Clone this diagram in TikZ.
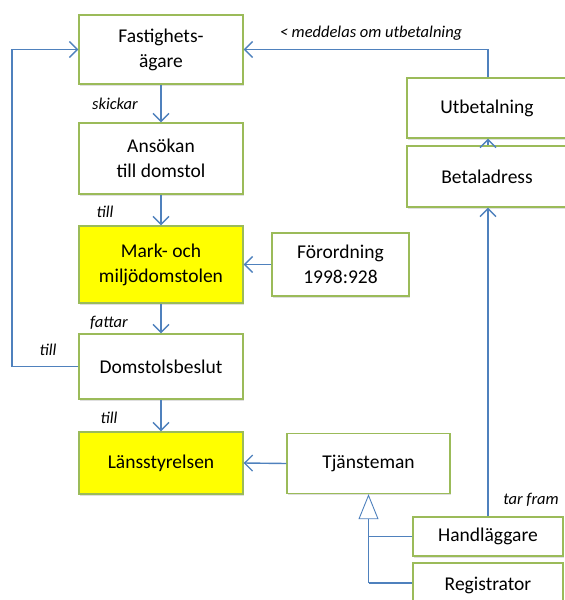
\documentclass[tikz,border=0pt]{standalone}
\usepackage{fontspec}
\setmainfont{Carlito}
\usetikzlibrary{arrows.meta,shadows}
\definecolor{boxgreen}{HTML}{9BBB59}
\definecolor{lineblue}{HTML}{4F81BD}
\definecolor{yel}{HTML}{FFFF00}
\begin{document}
\begin{tikzpicture}[x=1pt,y=-1pt,
  box/.style={draw=boxgreen, line width=1.4pt, fill=white, align=center,
    font=\fontsize{19.5}{25}\selectfont, inner sep=0pt,
    drop shadow={opacity=0.25, shadow xshift=1.2pt, shadow yshift=-1.5pt}},
  lbl/.style={font=\itshape\fontsize{16.5}{18}\selectfont, inner sep=0pt},
  conn/.style={draw=lineblue, line width=1.4pt},
  arr/.style={conn, -{Straight Barb[length=8pt,width=16pt,line width=1.3pt]}}]
\useasboundingbox (0,0) rectangle (565,600);
\clip (0,0) rectangle (565,600);
\node[box, minimum width=164pt, minimum height=69pt] (fast) at (161,49.5) {Fastighets-\\ägare};
\node[box, minimum width=164pt, minimum height=71pt] (ans) at (161,158.5) {Ansökan\\till domstol};
\node[box, fill=yel, minimum width=164pt, minimum height=77pt] (mark) at (161,264.5) {Mark- och\\miljödomstolen};
\node[box, minimum width=137pt, minimum height=63pt] (forord) at (340.5,264.5) {Förordning\\1998:928};
\node[box, minimum width=164pt, minimum height=65pt] (beslut) at (161,366.5) {Domstolsbeslut};
\node[box, fill=yel, minimum width=164pt, minimum height=62pt] (lans) at (161,463) {Länsstyrelsen};
\node[box, minimum width=163pt, minimum height=60pt] (tjan) at (368.5,463.5) {Tjänsteman};
\node[box, minimum width=160pt, minimum height=60pt] (utb) at (487,108) {Utbetalning};
\node[box, minimum width=160pt, minimum height=61pt] (beta) at (487,176.5) {Betaladress};
\node[box, minimum width=150pt, minimum height=39pt] (hand) at (488,536.5) {Handläggare};
\node[box, minimum width=150pt, minimum height=44pt] (reg) at (488,585) {Registrator};

\draw[arr] (fast.south) -- (ans.north);
\draw[arr] (ans.south) -- (mark.north);
\draw[arr] (mark.south) -- (beslut.north);
\draw[arr] (beslut.south) -- (lans.north);
\draw[arr] (forord.west) -- (mark.east);
\draw[arr] (tjan.west) -- (lans.east);
\coordinate (lb) at (12,366.5);
\coordinate (lt) at (12,49.5);
\draw[arr] (beslut.west) -- (lb) -- (lt) -- (fast.west);
\coordinate (rt) at (488,49.5);
\draw[arr] (utb.north -| rt) -- (rt) -- (fast.east);
\draw[arr] (beta.north -| rt) -- (utb.south -| rt);
\draw[arr] (hand.north) -- (beta.south -| hand.north);

\coordinate (j) at (368.5,583);
\draw[conn] (reg.west |- j) -- (j);
\draw[conn] (hand.west) -- (hand.west -| j);
\draw[conn, -{Triangle[open, length=25pt, width=20pt, line width=0.9pt, fill=white]}] (j) -- (tjan.south);

\node[lbl] (l1) at (115,104) {skickar};
\node[lbl] (l2) at (105,212) {till};
\node[lbl] (l3) at (109,323) {fattar};
\node[lbl] (l4) at (48,350) {till};
\node[lbl] (l5) at (109,418) {till};
\node[lbl] (l6) at (371,33) {< meddelas om utbetalning};
\node[lbl] (l7) at (531,500) {tar fram};
\end{tikzpicture}
\end{document}
